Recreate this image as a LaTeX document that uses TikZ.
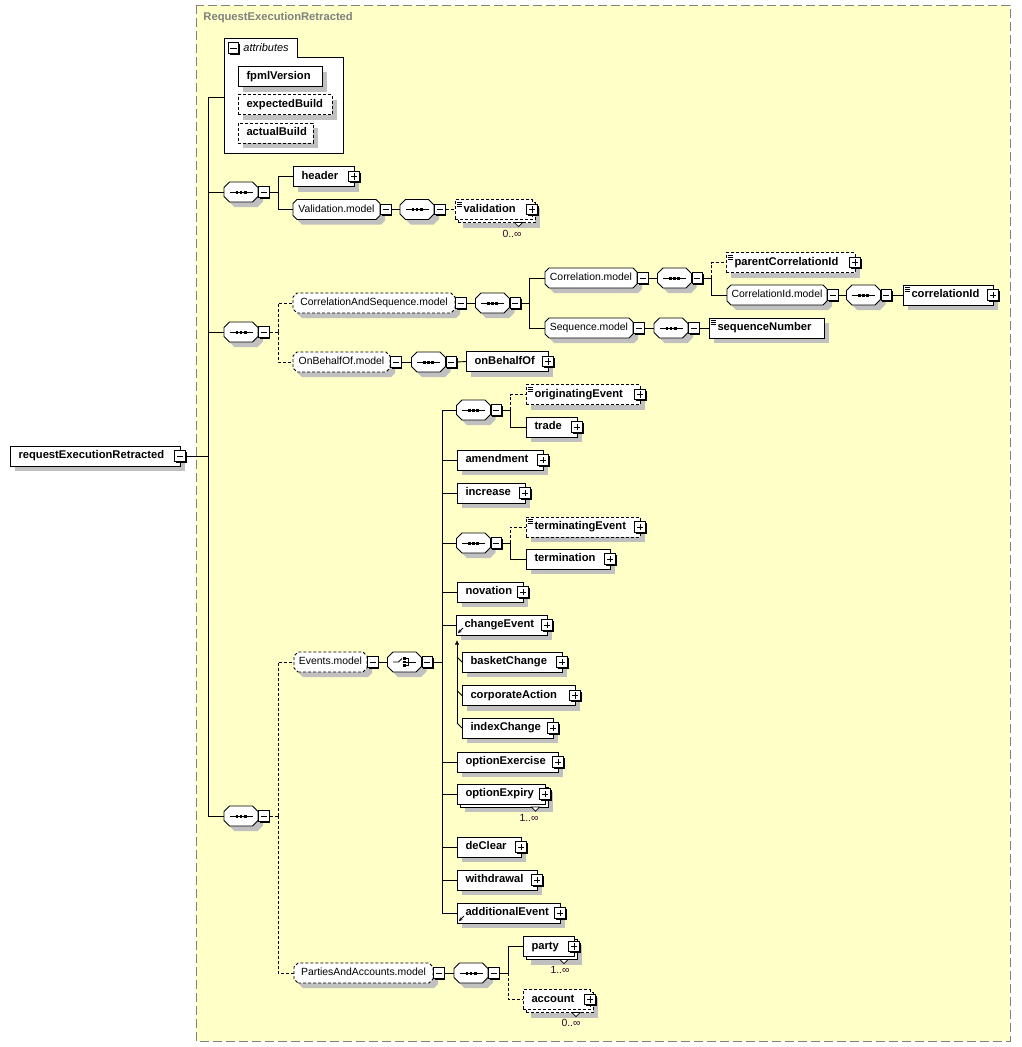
\documentclass[tikz,border=0pt]{standalone}
\usepackage{fontspec}
\setmainfont{Liberation Sans}
\usetikzlibrary{shadows}
\usetikzlibrary{arrows.meta}
\usepackage{xcolor}

\definecolor{paneYellow}{RGB}{255,255,200}
\definecolor{shadeGray}{RGB}{192,192,192}
\definecolor{frameGray}{RGB}{128,128,128}
\definecolor{occText}{RGB}{48,0,48}

\newcommand{\elemfont}{\bfseries\fontsize{11.2}{13}\selectfont}
\newcommand{\grpfont}{\fontsize{10.4}{12}\selectfont}

\hyphenpenalty=10000
\exhyphenpenalty=10000

% octagon-like box for compositors and model groups
\makeatletter
\pgfkeys{/pgf/oct cut/.initial=4pt}
\pgfdeclareshape{oct box}{%
  \inheritsavedanchors[from=rectangle]%
  \inheritanchorborder[from=rectangle]%
  \inheritanchor[from=rectangle]{center}%
  \inheritanchor[from=rectangle]{north}%
  \inheritanchor[from=rectangle]{south}%
  \inheritanchor[from=rectangle]{west}%
  \inheritanchor[from=rectangle]{east}%
  \inheritanchor[from=rectangle]{north west}%
  \inheritanchor[from=rectangle]{north east}%
  \inheritanchor[from=rectangle]{south west}%
  \inheritanchor[from=rectangle]{south east}%
  \inheritanchor[from=rectangle]{base}%
  \inheritanchor[from=rectangle]{mid}%
  \backgroundpath{%
    \southwest \edef\octxa{\the\pgf@x}\edef\octya{\the\pgf@y}%
    \northeast \edef\octxb{\the\pgf@x}\edef\octyb{\the\pgf@y}%
    \pgfmathsetlengthmacro\octc{\pgfkeysvalueof{/pgf/oct cut}}%
    \pgfpathmoveto{\pgfpoint{\octxa+\octc}{\octya}}%
    \pgfpathlineto{\pgfpoint{\octxb-\octc}{\octya}}%
    \pgfpathlineto{\pgfpoint{\octxb}{\octya+\octc}}%
    \pgfpathlineto{\pgfpoint{\octxb}{\octyb-\octc}}%
    \pgfpathlineto{\pgfpoint{\octxb-\octc}{\octyb}}%
    \pgfpathlineto{\pgfpoint{\octxa+\octc}{\octyb}}%
    \pgfpathlineto{\pgfpoint{\octxa}{\octyb-\octc}}%
    \pgfpathlineto{\pgfpoint{\octxa}{\octya+\octc}}%
    \pgfpathclose
  }%
}
\makeatother

\begin{document}
\begin{tikzpicture}[x=1pt, y=-1pt, line width=0.9pt]
        % ================= styles =================
        \tikzset{
            % grey drop shadow of boxes
            shad/.style={drop shadow={shadow xshift=5pt, shadow yshift=-5pt, fill=shadeGray, opacity=1}},
            % element box, text from the left
            box/.style={rectangle, draw=black, fill=white, inner sep=0pt, outer sep=0pt, text width=#1, align=left,
                minimum height=20pt, text height=8.2pt, text depth=2.4pt, anchor=west, font=\elemfont,
                execute at begin node={\kern8.5pt}},
            elem/.style={box=#1, shad},
            % optional: dashed border
            opt/.style={dash pattern=on 3pt off 2pt},
            % simple content icon (three lines)
            simple/.style={path picture={
                \draw[solid, line width=0.6pt] ([xshift=1.5pt, yshift=-2.5pt]path picture bounding box.north west) -- ++(5pt,0);
                \draw[solid, line width=0.6pt] ([xshift=1.5pt, yshift=-4.5pt]path picture bounding box.north west) -- ++(5pt,0);
                \draw[solid, line width=0.6pt] ([xshift=1.5pt, yshift=-6.5pt]path picture bounding box.north west) -- ++(5pt,0);
            }},
            % substitution head icon
            abstr/.style={path picture={
                \draw[line width=0.8pt, {Stealth[length=3.5pt, width=3.5pt]}-] ([xshift=2pt, yshift=2pt]path picture bounding box.south west) -- ++(5pt,5pt);
            }},
            % model group reference
            grp/.style={oct box, oct cut=4pt, draw=black, fill=white, inner sep=0pt, outer sep=0pt,
                minimum width=#1, minimum height=20pt, text height=7.6pt, text depth=2.2pt,
                anchor=west, font=\grpfont, shad},
            % compositors
            comp_base/.style={oct box, oct cut=5.5pt, draw=black, fill=white, inner sep=0pt, outer sep=0pt,
                minimum width=34pt, minimum height=20pt, shad},
            seq_node/.style={comp_base, path picture={
                \draw[line width=1pt] ([xshift=-11.5pt]path picture bounding box.center) -- ([xshift=11.5pt]path picture bounding box.center);
                \fill[black] ([xshift=-5.5pt, yshift=-1.5pt]path picture bounding box.center) rectangle ++(2.6pt,3pt);
                \fill[black] ([xshift=-1.3pt, yshift=-1.5pt]path picture bounding box.center) rectangle ++(2.6pt,3pt);
                \fill[black] ([xshift=2.9pt, yshift=-1.5pt]path picture bounding box.center) rectangle ++(2.6pt,3pt);
            }},
            choice_node/.style={comp_base, path picture={
                \draw[line width=0.9pt] ([xshift=-11.5pt]path picture bounding box.center) -- ++(5.5pt,0) -- ++(3.5pt,3.5pt);
                \fill[black] ([xshift=-1.6pt, yshift=2.4pt]path picture bounding box.center) rectangle ++(2.6pt,2.4pt);
                \fill[black] ([xshift=-1.6pt, yshift=-1.2pt]path picture bounding box.center) rectangle ++(2.6pt,2.4pt);
                \fill[black] ([xshift=-1.6pt, yshift=-4.8pt]path picture bounding box.center) rectangle ++(2.6pt,2.4pt);
                \draw[line width=0.9pt] ([xshift=1pt, yshift=3.6pt]path picture bounding box.center) -- ++(3.2pt,0) -- ++(0,-7.2pt) -- ++(-3.2pt,0);
                \draw[line width=0.9pt] ([xshift=1pt]path picture bounding box.center) -- ++(10.5pt,0);
            }},
            % expand / collapse boxes
            pm_base/.style={rectangle, draw=black, fill=white, line width=1pt, minimum size=10.5pt, inner sep=0pt,
                drop shadow={shadow xshift=1.3pt, shadow yshift=-1.3pt, fill=black, opacity=1}},
            minus_box/.style={pm_base, path picture={
                \draw[line width=1pt] ([xshift=2.2pt]path picture bounding box.west) -- ([xshift=-2.2pt]path picture bounding box.east);
            }},
            plus_box/.style={pm_base, path picture={
                \draw[line width=1pt] ([xshift=2.2pt]path picture bounding box.west) -- ([xshift=-2.2pt]path picture bounding box.east);
                \draw[line width=1pt] ([yshift=2.2pt]path picture bounding box.south) -- ([yshift=-2.2pt]path picture bounding box.north);
            }},
            % texts and lines
            occ/.style={font=\grpfont, text=occText, inner sep=0pt},
            title_text/.style={anchor=west, text=frameGray, font=\elemfont, inner sep=0pt},
            attr_text/.style={anchor=west, font=\itshape\fontsize{11}{13}\selectfont, inner sep=0pt},
            opt_line/.style={dash pattern=on 3pt off 2pt},
            sub_arrow/.style={-{Latex[length=4.5pt, width=4.5pt]}},
            frame_line/.style={draw=frameGray, line width=1pt, dash pattern=on 9pt off 4pt},
            notch/.style={fill=white, line width=0.7pt}
        }

        \useasboundingbox (0,0) rectangle (1021,1047);

        % ================= complex type frame =================
        \draw[frame_line, fill=paneYellow] (196,5) rectangle (1010,1041);
        \node[title_text] (title) at (203,18) {RequestExecutionRetracted};

        % ================= root element =================
        \node[elem=170pt] (root) at (10,456) {requestExecutionRetracted};
        \node[minus_box] (root_pm) at (root.east) {};
        \coordinate (trunk) at (208,456);

        % ================= attributes =================
        \draw[fill=white] (224,38) -- (297,38) -- (297,57) -- (343,57) -- (343,153) -- (224,153) -- cycle;
        \node[minus_box] (attr_pm) at (233.5,48) {};
        \node[attr_text] (attr_lbl) at (243,48) {attributes};
        \node[elem=84pt] (fpml_ver) at (238,76.5) {fpmlVersion};
        \node[elem=94pt, opt] (exp_build) at (238,104.5) {expectedBuild};
        \node[elem=75pt, opt] (act_build) at (238,133) {actualBuild};
        \coordinate (attr_in) at (224,97);

        % ================= sequence: header, Validation.model =================
        \node[seq_node] (seq_hdr) at (241,192) {};
        \node[minus_box, anchor=west] (seq_hdr_pm) at (seq_hdr.east) {};
        \coordinate (br_hdr) at (278,192);
        \node[elem=61pt] (header) at (293,176.5) {header};
        \node[plus_box] (header_pm) at (header.east) {};
        \node[grp=87pt] (val_grp) at (293,209.5) {Validation.model};
        \node[minus_box, anchor=west] (val_grp_pm) at (val_grp.east) {};
        \node[seq_node] (seq_val) at (417,209.5) {};
        \node[minus_box, anchor=west] (seq_val_pm) at (seq_val.east) {};
        \node[box=77pt, opt, shad] (validation_b) at (458,212.5) {};
        \node[box=77pt, opt, simple] (validation) at (455,209.5) {validation};
        \node[plus_box] (validation_pm) at (validation.east) {};
        \filldraw[notch] ([xshift=-17.5pt, yshift=-3pt]validation.south east) -- ++(4,4) -- ++(4,-4) -- cycle;
        \node[occ] (validation_occ) at ([xshift=-20pt, yshift=-14pt]validation.south east) {0..∞};

        % ================= sequence: CorrelationAndSequence.model, OnBehalfOf.model =================
        \node[seq_node] (seq_cs) at (241,332) {};
        \node[minus_box, anchor=west] (seq_cs_pm) at (seq_cs.east) {};
        \coordinate (br_cs) at (278,332);
        \node[grp=162pt, opt] (cas_grp) at (293,303) {CorrelationAndSequence.model};
        \node[minus_box, anchor=west] (cas_grp_pm) at (cas_grp.east) {};
        \node[seq_node] (seq_cas) at (492.5,303) {};
        \node[minus_box, anchor=west] (seq_cas_pm) at (seq_cas.east) {};
        \coordinate (br_cas) at (529,303);

        \node[grp=92pt] (corr_grp) at (545,278) {Correlation.model};
        \node[minus_box, anchor=west] (corr_grp_pm) at (corr_grp.east) {};
        \node[seq_node] (seq_corr) at (674.5,278) {};
        \node[minus_box, anchor=west] (seq_corr_pm) at (seq_corr.east) {};
        \coordinate (br_corr) at (711,278);
        \node[elem=129pt, opt, simple] (parent_corr) at (726,262.5) {parentCorrelationId};
        \node[plus_box] (parent_corr_pm) at (parent_corr.east) {};
        \node[grp=100pt] (cid_grp) at (727,295) {CorrelationId.model};
        \node[minus_box, anchor=west] (cid_grp_pm) at (cid_grp.east) {};
        \node[seq_node] (seq_cid) at (863.5,295) {};
        \node[minus_box, anchor=west] (seq_cid_pm) at (seq_cid.east) {};
        \node[elem=90pt, simple] (corr_id) at (903,295) {correlationId};
        \node[plus_box] (corr_id_pm) at (corr_id.east) {};

        \node[grp=88pt] (sq_grp) at (545,328) {Sequence.model};
        \node[minus_box, anchor=west] (sq_grp_pm) at (sq_grp.east) {};
        \node[seq_node] (seq_sq) at (671,328) {};
        \node[minus_box, anchor=west] (seq_sq_pm) at (seq_sq.east) {};
        \node[elem=115pt, simple] (seq_num) at (709,328) {sequenceNumber};

        \node[grp=97pt, opt] (obo_grp) at (293,362) {OnBehalfOf.model};
        \node[minus_box, anchor=west] (obo_grp_pm) at (obo_grp.east) {};
        \node[seq_node] (seq_obo) at (428.5,362) {};
        \node[minus_box, anchor=west] (seq_obo_pm) at (seq_obo.east) {};
        \node[elem=82pt] (on_behalf) at (466,361.5) {onBehalfOf};
        \node[plus_box] (on_behalf_pm) at (on_behalf.east) {};

        % ================= sequence: Events.model, PartiesAndAccounts.model =================
        \node[seq_node] (seq_ev) at (241,816) {};
        \node[minus_box, anchor=west] (seq_ev_pm) at (seq_ev.east) {};
        \coordinate (br_ev) at (278,816);
        \node[grp=73pt, opt] (ev_grp) at (294,662) {Events.model};
        \node[minus_box, anchor=west] (ev_grp_pm) at (ev_grp.east) {};
        \node[choice_node] (ev_choice) at (404.5,662) {};
        \node[minus_box, anchor=west] (ev_choice_pm) at (ev_choice.east) {};
        \coordinate (br_choice) at (442,662);

        % choice members
        \node[seq_node] (seq_orig) at (473.5,410) {};
        \node[minus_box, anchor=west] (seq_orig_pm) at (seq_orig.east) {};
        \coordinate (br_orig) at (510,410);
        \node[elem=114pt, opt, simple] (orig_ev) at (526,394.5) {originatingEvent};
        \node[plus_box] (orig_ev_pm) at (orig_ev.east) {};
        \node[elem=51pt] (trade) at (526,427) {trade};
        \node[plus_box] (trade_pm) at (trade.east) {};
        \node[elem=86pt] (amendment) at (457,460) {amendment};
        \node[plus_box] (amendment_pm) at (amendment.east) {};
        \node[elem=68pt] (increase) at (457,493) {increase};
        \node[plus_box] (increase_pm) at (increase.east) {};
        \node[seq_node] (seq_term) at (473.5,543) {};
        \node[minus_box, anchor=west] (seq_term_pm) at (seq_term.east) {};
        \coordinate (br_term) at (510,543);
        \node[elem=114pt, opt, simple] (term_ev) at (526,527) {terminatingEvent};
        \node[plus_box] (term_ev_pm) at (term_ev.east) {};
        \node[elem=84pt] (termination) at (526,559) {termination};
        \node[plus_box] (termination_pm) at (termination.east) {};
        \node[elem=66pt] (novation) at (457,592) {novation};
        \node[plus_box] (novation_pm) at (novation.east) {};
        \node[elem=91pt, abstr] (change_ev) at (456,625) {changeEvent};
        \node[plus_box] (change_ev_pm) at (change_ev.east) {};
        \node[elem=100pt] (basket_ch) at (462,662) {basketChange};
        \node[plus_box] (basket_ch_pm) at (basket_ch.east) {};
        \node[elem=113pt] (corp_act) at (462,695.5) {corporateAction};
        \node[plus_box] (corp_act_pm) at (corp_act.east) {};
        \node[elem=91pt] (index_ch) at (462,728) {indexChange};
        \node[plus_box] (index_ch_pm) at (index_ch.east) {};
        \node[elem=101pt] (opt_exer) at (457,762) {optionExercise};
        \node[plus_box] (opt_exer_pm) at (opt_exer.east) {};
        \node[box=88pt, shad] (opt_expiry_b) at (460,797) {};
        \node[box=88pt] (opt_expiry) at (457,794) {optionExpiry};
        \node[plus_box] (opt_expiry_pm) at (opt_expiry.east) {};
        \filldraw[notch] ([xshift=-13.5pt, yshift=-3pt]opt_expiry.south east) -- ++(4,4) -- ++(4,-4) -- cycle;
        \node[occ] (opt_expiry_occ) at ([xshift=-16pt, yshift=-14pt]opt_expiry.south east) {1..∞};
        \node[elem=64pt] (de_clear) at (457,847) {deClear};
        \node[plus_box] (de_clear_pm) at (de_clear.east) {};
        \node[elem=80pt] (withdrawal) at (457,880) {withdrawal};
        \node[plus_box] (withdrawal_pm) at (withdrawal.east) {};
        \node[elem=103pt, abstr] (add_ev) at (457,913) {additionalEvent};
        \node[plus_box] (add_ev_pm) at (add_ev.east) {};

        % parties and accounts
        \node[grp=139pt, opt] (pa_grp) at (294,973) {PartiesAndAccounts.model};
        \node[minus_box, anchor=west] (pa_grp_pm) at (pa_grp.east) {};
        \node[seq_node] (seq_pa) at (471,973) {};
        \node[minus_box, anchor=west] (seq_pa_pm) at (seq_pa.east) {};
        \coordinate (br_pa) at (508,973);
        \node[box=51pt, shad] (party_b) at (526,949.5) {};
        \node[box=51pt] (party) at (523,946.5) {party};
        \node[plus_box] (party_pm) at (party.east) {};
        \filldraw[notch] ([xshift=-14pt, yshift=-3pt]party.south east) -- ++(4,4) -- ++(4,-4) -- cycle;
        \node[occ] (party_occ) at ([xshift=-14pt, yshift=-13.5pt]party.south east) {1..∞};
        \node[box=67pt, opt, shad] (account_b) at (526,1002.5) {};
        \node[box=67pt, opt] (account) at (523,999.5) {account};
        \node[plus_box] (account_pm) at (account.east) {};
        \filldraw[notch] ([xshift=-18pt, yshift=-3pt]account.south east) -- ++(4,4) -- ++(4,-4) -- cycle;
        \node[occ] (account_occ) at ([xshift=-19pt, yshift=-13.5pt]account.south east) {0..∞};

        % ================= connectors =================
        \draw (root_pm.east) -- (trunk);
        \draw (trunk) |- (attr_in);
        \draw (trunk) |- (seq_hdr.west);
        \draw (trunk) |- (seq_cs.west);
        \draw (trunk) |- (seq_ev.west);

        \draw (seq_hdr_pm.east) -- (br_hdr);
        \draw (br_hdr) |- (header.west);
        \draw (br_hdr) |- (val_grp.west);
        \draw (val_grp_pm.east) -- (seq_val.west);
        \draw[opt_line] (seq_val_pm.east) -- (validation.west);

        \draw[opt_line] (seq_cs_pm.east) -- (br_cs);
        \draw[opt_line] (br_cs) |- (cas_grp.west);
        \draw[opt_line] (br_cs) |- (obo_grp.west);
        \draw (cas_grp_pm.east) -- (seq_cas.west);
        \draw (seq_cas_pm.east) -- (br_cas);
        \draw (br_cas) |- (corr_grp.west);
        \draw (br_cas) |- (sq_grp.west);
        \draw (corr_grp_pm.east) -- (seq_corr.west);
        \draw (seq_corr_pm.east) -- (br_corr);
        \draw[opt_line] (br_corr) |- (parent_corr.west);
        \draw (br_corr) |- (cid_grp.west);
        \draw (cid_grp_pm.east) -- (seq_cid.west);
        \draw (seq_cid_pm.east) -- (corr_id.west);
        \draw (sq_grp_pm.east) -- (seq_sq.west);
        \draw (seq_sq_pm.east) -- (seq_num.west);
        \draw (obo_grp_pm.east) -- (seq_obo.west);
        \draw (seq_obo_pm.east) -- (on_behalf.west);

        \draw[opt_line] (seq_ev_pm.east) -- (br_ev);
        \draw[opt_line] (br_ev) |- (ev_grp.west);
        \draw[opt_line] (br_ev) |- (pa_grp.west);
        \draw (ev_grp_pm.east) -- (ev_choice.west);
        \draw (ev_choice_pm.east) -- (br_choice);
        \draw (br_choice) |- (seq_orig.west);
        \draw (br_choice) |- (amendment.west);
        \draw (br_choice) |- (increase.west);
        \draw (br_choice) |- (seq_term.west);
        \draw (br_choice) |- (novation.west);
        \draw (br_choice) |- (change_ev.west);
        \draw (br_choice) |- (opt_exer.west);
        \draw (br_choice) |- (opt_expiry.west);
        \draw (br_choice) |- (de_clear.west);
        \draw (br_choice) |- (withdrawal.west);
        \draw (br_choice) |- (add_ev.west);
        \draw (seq_orig_pm.east) -- (br_orig);
        \draw[opt_line] (br_orig) |- (orig_ev.west);
        \draw (br_orig) |- (trade.west);
        \draw (seq_term_pm.east) -- (br_term);
        \draw[opt_line] (br_term) |- (term_ev.west);
        \draw (br_term) |- (termination.west);

        % substitution group of changeEvent
        \coordinate (sub_top) at (457,640);
        \draw[sub_arrow] (index_ch.west) ++(-5,-5) -- (sub_top);
        \draw (basket_ch.west) -- ++(-5,-5);
        \draw (corp_act.west) -- ++(-5,-5);
        \draw (index_ch.west) -- ++(-5,-5);

        \draw (pa_grp_pm.east) -- (seq_pa.west);
        \draw (seq_pa_pm.east) -- (br_pa);
        \draw (br_pa) |- (party.west);
        \draw[opt_line] (br_pa) |- (account.west);

    \end{tikzpicture}
\end{document}
